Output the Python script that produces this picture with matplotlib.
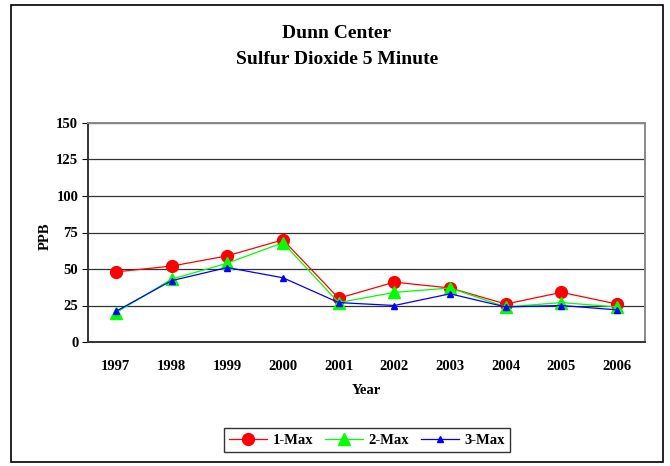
import matplotlib
matplotlib.use("Agg")
import matplotlib.pyplot as plt
from matplotlib.patches import Rectangle

# ---- data ----
years = ["1997", "1998", "1999", "2000", "2001", "2002", "2003", "2004", "2005", "2006"]
max1 = [48, 52, 59, 70, 30, 41, 37, 26, 34, 26]
max2 = [20, 43, 54, 68, 27, 34, 37, 24, 27, 24]
max3 = [21, 42, 51, 44, 27, 25, 33, 24, 25, 22]
yticks = [0, 25, 50, 75, 100, 125, 150]

plt.rcParams['font.family'] = ['Liberation Serif', 'DejaVu Serif']
plt.rcParams['font.weight'] = 'bold'

fig = plt.figure(figsize=(6.7, 4.66), dpi=100)
W, H = 670, 466

# outer chart border
fig.patches.append(Rectangle((11 / W, 1 - 462 / H), (663 - 11) / W, (462 - 5) / H,
                             transform=fig.transFigure, fill=False,
                             edgecolor="black", linewidth=1.2))

ax = fig.add_axes([88 / W, 1 - 342 / H, (645 - 88) / W, (342 - 123) / H])
x = list(range(len(years)))

ax.plot(x, max1, color="red", marker="o", markersize=8.5, linewidth=0.9,
        markeredgecolor="red", label="1-Max", zorder=3)
ax.plot(x, max2, color="#00ff00", marker="^", markersize=8, linewidth=0.9,
        markeredgecolor="#00ff00", label="2-Max", zorder=4)
ax.plot(x, max3, color="blue", marker="^", markersize=5, linewidth=0.9,
        markeredgecolor="blue", label="3-Max", zorder=5)

ax.set_xlim(-0.5, len(years) - 0.5)
ax.set_ylim(0, 150)
ax.set_yticks(yticks)
ax.set_xticks(x)
ax.set_xticklabels(years)
ax.tick_params(axis="x", length=0, pad=13, labelsize=10.5)
ax.tick_params(axis="y", length=4, direction="out", labelsize=10.5, pad=3)
ax.yaxis.grid(True, color="#333333", linewidth=0.9)
ax.set_axisbelow(True)

for side in ("left", "bottom"):
    ax.spines[side].set_color("#333333")
    ax.spines[side].set_linewidth(1.4)
for side in ("top", "right"):
    ax.spines[side].set_color("#888888")
    ax.spines[side].set_linewidth(1.4)

fig.text(337 / W, 1 - 33 / H, "Dunn Center", ha="center", va="center",
         fontsize=14, fontweight="bold")
fig.text(337 / W, 1 - 60 / H, "Sulfur Dioxide 5 Minute", ha="center", va="center",
         fontsize=14, fontweight="bold")
fig.text(45 / W, 1 - 236 / H, "PPB", rotation=90, ha="center", va="center",
         fontsize=10.5, fontweight="bold")
fig.text(366 / W, 1 - 391 / H, "Year", ha="center", va="center",
         fontsize=10.5, fontweight="bold")

leg = fig.legend(loc="center", bbox_to_anchor=(367 / W, 1 - 440 / H), ncol=3,
                 fontsize=10.5, frameon=True, fancybox=False, edgecolor="black",
                 handlelength=2.6, columnspacing=0.8, handletextpad=0.4,
                 borderpad=0.35)
leg.get_frame().set_linewidth(1.0)

fig.savefig("out.png", dpi=100)
